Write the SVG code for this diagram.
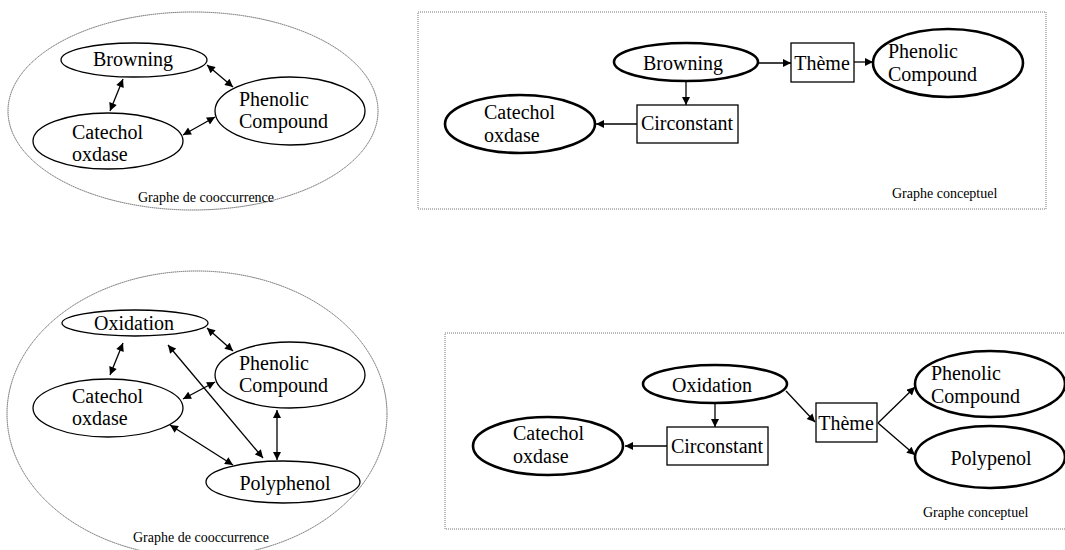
<svg xmlns="http://www.w3.org/2000/svg" width="1065" height="550" viewBox="0 0 1065 550">
<style>
text{font-family:"Liberation Serif","Times New Roman",serif;fill:#000}
.n{font-size:20px}
.lbl{font-size:14px}
.thin{fill:#fff;stroke:#000;stroke-width:1.3}
.thick{fill:#fff;stroke:#000;stroke-width:2.6}
.box{fill:#fff;stroke:#000;stroke-width:1.3}
.panel{fill:none;stroke:#777;stroke-width:1;stroke-dasharray:1 1}
.group{fill:none;stroke:#666;stroke-width:1;stroke-dasharray:1.5 0.5}
.c{fill:none;stroke:#000;stroke-width:1.3}
</style>
<defs>
<marker id="ah" viewBox="0 0 10 10" refX="10" refY="5" markerWidth="9" markerHeight="8" markerUnits="userSpaceOnUse" orient="auto-start-reverse">
<path d="M0,0 L10,5 L0,10 z" fill="#000"/>
</marker>
</defs>
<rect width="1065" height="550" fill="#fff"/>

<!-- panels -->
<g id="panel-tl"><ellipse class="group" cx="193" cy="111" rx="185" ry="99"/><text class="lbl" x="138" y="202">Graphe de cooccurrence</text></g>
<g id="panel-tr"><rect class="panel" x="418" y="12" width="628" height="197"/><text class="lbl" x="892" y="198">Graphe conceptuel</text></g>
<g id="panel-bl"><ellipse class="group" cx="197" cy="414" rx="190" ry="143"/><text class="lbl" x="133" y="542">Graphe de cooccurrence</text></g>
<g id="panel-br"><rect class="panel" x="445" y="333" width="630" height="196"/><text class="lbl" x="923" y="517">Graphe conceptuel</text></g>

<g id="connectors">
<!-- top-left -->
<line class="c" x1="123" y1="79" x2="110" y2="111" marker-start="url(#ah)" marker-end="url(#ah)"/>
<line class="c" x1="207" y1="65" x2="233" y2="87" marker-start="url(#ah)" marker-end="url(#ah)"/>
<line class="c" x1="183" y1="135" x2="215" y2="117" marker-start="url(#ah)" marker-end="url(#ah)"/>
<!-- top-right -->
<line class="c" x1="758" y1="63" x2="791" y2="63" marker-end="url(#ah)"/>
<line class="c" x1="854" y1="62" x2="873" y2="62" marker-end="url(#ah)"/>
<line class="c" x1="686" y1="82" x2="686" y2="105" marker-end="url(#ah)"/>
<line class="c" x1="637" y1="124" x2="596" y2="124" marker-end="url(#ah)"/>
<!-- bottom-left -->
<line class="c" x1="123" y1="343" x2="110" y2="375" marker-start="url(#ah)" marker-end="url(#ah)"/>
<line class="c" x1="207" y1="328" x2="233" y2="351" marker-start="url(#ah)" marker-end="url(#ah)"/>
<line class="c" x1="183" y1="399" x2="215" y2="382" marker-start="url(#ah)" marker-end="url(#ah)"/>
<line class="c" x1="168" y1="345" x2="263" y2="458" marker-start="url(#ah)" marker-end="url(#ah)"/>
<line class="c" x1="170" y1="425" x2="233" y2="465" marker-start="url(#ah)" marker-end="url(#ah)"/>
<line class="c" x1="277" y1="410" x2="277" y2="460" marker-start="url(#ah)" marker-end="url(#ah)"/>
<!-- bottom-right -->
<line class="c" x1="715" y1="403" x2="715" y2="427" marker-end="url(#ah)"/>
<line class="c" x1="667" y1="446" x2="625" y2="446" marker-end="url(#ah)"/>
<line class="c" x1="786" y1="391" x2="815" y2="422" marker-end="url(#ah)"/>
<line class="c" x1="878" y1="423" x2="915" y2="387" marker-end="url(#ah)"/>
<line class="c" x1="878" y1="423" x2="915" y2="455" marker-end="url(#ah)"/>
</g>

<!-- top-left nodes -->
<g id="tl-browning"><ellipse class="thin" cx="134" cy="60" rx="73" ry="17"/><text class="n" x="133" y="66" text-anchor="middle">Browning</text></g>
<g id="tl-catechol"><ellipse class="thin" cx="108" cy="141" rx="75" ry="28"/><text class="n" x="72" y="139">Catechol</text><text class="n" x="72" y="161">oxdase</text></g>
<g id="tl-phenolic"><ellipse class="thin" cx="290" cy="111" rx="75" ry="34"/><text class="n" x="239" y="106">Phenolic</text><text class="n" x="239" y="128">Compound</text></g>

<!-- top-right nodes -->
<g id="tr-browning"><ellipse class="thick" cx="686" cy="62" rx="72" ry="19"/><text class="n" x="683" y="70" text-anchor="middle">Browning</text></g>
<g id="tr-theme"><rect class="box" x="791" y="43" width="63" height="39"/><text class="n" x="822" y="70" text-anchor="middle">Thème</text></g>
<g id="tr-phenolic"><ellipse class="thick" cx="948" cy="63" rx="75" ry="34"/><text class="n" x="888" y="58">Phenolic</text><text class="n" x="888" y="81">Compound</text></g>
<g id="tr-circonstant"><rect class="box" x="637" y="105" width="101" height="38"/><text class="n" x="687" y="130" text-anchor="middle">Circonstant</text></g>
<g id="tr-catechol"><ellipse class="thick" cx="520" cy="124" rx="75" ry="29"/><text class="n" x="484" y="119">Catechol</text><text class="n" x="484" y="142">oxdase</text></g>

<!-- bottom-left nodes -->
<g id="bl-oxidation"><ellipse class="thin" cx="135" cy="323" rx="73" ry="13"/><text class="n" x="134" y="330" text-anchor="middle">Oxidation</text></g>
<g id="bl-catechol"><ellipse class="thin" cx="108" cy="408" rx="75" ry="29"/><text class="n" x="72" y="403">Catechol</text><text class="n" x="72" y="425">oxdase</text></g>
<g id="bl-phenolic"><ellipse class="thin" cx="290" cy="375" rx="75" ry="33"/><text class="n" x="239" y="370">Phenolic</text><text class="n" x="239" y="392">Compound</text></g>
<g id="bl-polyphenol"><ellipse class="thin" cx="283" cy="482" rx="77" ry="21"/><text class="n" x="285" y="490" text-anchor="middle">Polyphenol</text></g>

<!-- bottom-right nodes -->
<g id="br-oxidation"><ellipse class="thick" cx="715" cy="384" rx="72" ry="19"/><text class="n" x="712" y="392" text-anchor="middle">Oxidation</text></g>
<g id="br-circonstant"><rect class="box" x="667" y="427" width="101" height="38"/><text class="n" x="717" y="453" text-anchor="middle">Circonstant</text></g>
<g id="br-catechol"><ellipse class="thick" cx="548" cy="446" rx="75" ry="29"/><text class="n" x="513" y="440">Catechol</text><text class="n" x="513" y="463">oxdase</text></g>
<g id="br-theme"><rect class="box" x="816" y="403" width="61" height="39"/><text class="n" x="846" y="430" text-anchor="middle">Thème</text></g>
<g id="br-phenolic"><ellipse class="thick" cx="990" cy="384" rx="75" ry="33"/><text class="n" x="931" y="380">Phenolic</text><text class="n" x="931" y="403">Compound</text></g>
<g id="br-polypenol"><ellipse class="thick" cx="990" cy="457" rx="75" ry="31"/><text class="n" x="991" y="465" text-anchor="middle">Polypenol</text></g>
</svg>
